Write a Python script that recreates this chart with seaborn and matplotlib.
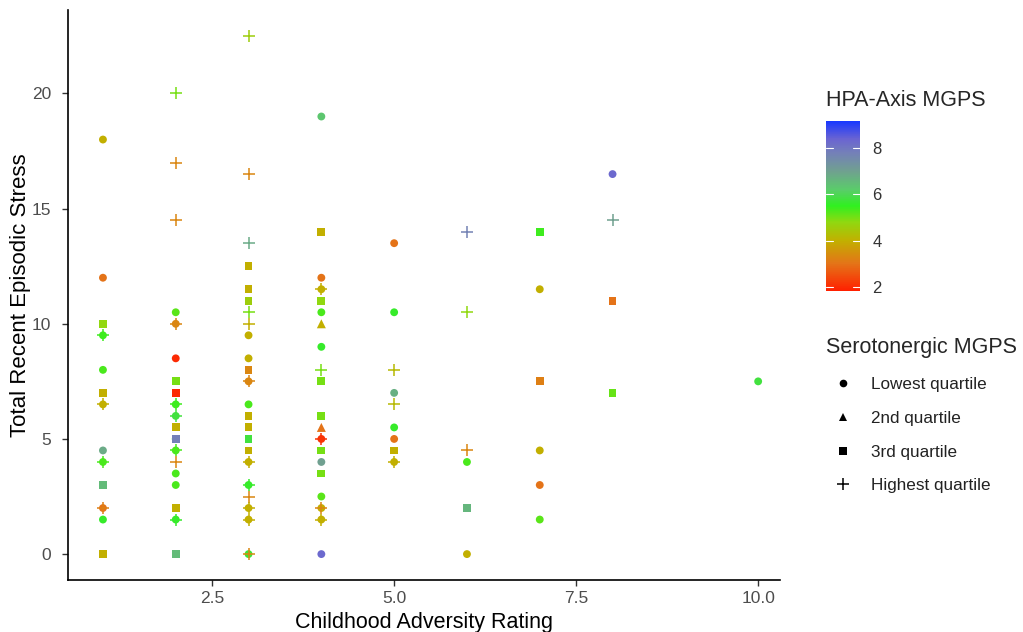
import matplotlib
matplotlib.use("Agg")
import matplotlib.pyplot as plt
import seaborn as sns
import pandas as pd
import numpy as np
from matplotlib.colors import LinearSegmentedColormap, Normalize
from matplotlib.lines import Line2D
import matplotlib.cm as cm

sns.set_theme(style="white")
plt.rcParams['font.family'] = ['Liberation Sans', 'DejaVu Sans']

# ---- data (childhood adversity, episodic stress, HPA-axis MGPS) ----
circle_x = [1, 1, 1, 1, 1, 1, 1, 1, 1,
            2, 2, 2, 2, 2, 2, 2, 2, 2, 2,
            3, 3, 3, 3, 3, 3, 3, 3, 3,
            4, 4, 4, 4, 4, 4, 4, 4, 4, 4, 4,
            5, 5, 5, 5, 5, 5,
            6, 6,
            7, 7, 7, 7,
            8, 10]
circle_y = [18, 12, 9.5, 8, 6.5, 4.5, 4, 2, 1.5,
            10.5, 10, 8.5, 6.5, 6, 5, 4.5, 3.5, 3, 1.5,
            9.5, 8.5, 7.5, 6.5, 4, 3, 2, 1.5, 0,
            12, 11.5, 10.5, 9, 5, 4, 2.5, 2, 1.5, 0, 19,
            13.5, 10.5, 7, 5.5, 5, 4,
            4, 0,
            11.5, 4.5, 3, 1.5,
            16.5, 7.5]
circle_h = [4.0, 3.0, 5.4, 5.3, 4.0, 6.8, 5.3, 3.0, 5.6,
            5.2, 3.3, 2.0, 5.4, 5.8, 5.5, 5.3, 5.3, 5.3, 5.6,
            4.0, 4.0, 3.3, 5.3, 4.0, 5.6, 4.0, 4.0, 5.7,
            3.0, 4.0, 5.3, 5.6, 2.1, 7.0, 5.2, 4.0, 4.0, 8.3, 6.3,
            3.0, 5.6, 6.7, 5.6, 3.0, 4.0,
            5.3, 4.0,
            4.0, 4.0, 3.0, 5.2,
            8.3, 5.8]

tri_x = [4, 4]
tri_y = [10, 5.5]
tri_h = [4.0, 3.0]

sq_x = [1, 1, 1, 1,
        2, 2, 2, 2, 2, 2,
        3, 3, 3, 3, 3, 3, 3, 3,
        4, 4, 4, 4, 4, 4,
        5, 6, 7, 7, 8, 8]
sq_y = [10, 7, 3, 0,
        7.5, 7, 5.5, 5, 2, 0,
        12.5, 11.5, 11, 8, 6, 5.5, 5, 4.5,
        14, 11, 7.5, 6, 4.5, 3.5,
        4.5, 2, 14, 7.5, 11, 7]
sq_h = [4.8, 4.0, 6.5, 4.0,
        5.0, 2.0, 4.0, 7.8, 4.0, 6.5,
        4.0, 4.0, 4.6, 3.3, 4.0, 4.0, 5.8, 4.0,
        4.0, 4.8, 5.0, 5.0, 5.0, 5.0,
        4.0, 6.6, 5.4, 3.2, 3.0, 5.1]

plus_x = [1, 1, 1, 1,
          2, 2, 2, 2, 2, 2, 2, 2, 2,
          3, 3, 3, 3, 3, 3, 3, 3, 3, 3, 3, 3,
          4, 4, 4, 4, 4,
          5, 5, 5,
          6, 6, 6,
          8]
plus_y = [9.5, 6.5, 4, 2,
          20, 17, 14.5, 10, 6.5, 6, 4.5, 4, 1.5,
          22.5, 16.5, 13.5, 10.5, 10, 7.5, 4, 3, 2.5, 2, 1.5, 0,
          11.5, 8, 5, 2, 1.5,
          8, 6.5, 4,
          14, 10.5, 4.5,
          14.5]
plus_h = [5.4, 4.0, 5.3, 3.2,
          5.0, 3.3, 3.3, 3.3, 5.4, 5.8, 5.3, 3.3, 5.6,
          4.6, 3.3, 6.8, 5.0, 4.0, 3.3, 4.0, 5.6, 3.3, 4.0, 4.0, 3.3,
          4.0, 5.0, 2.1, 3.3, 4.0,
          4.2, 4.2, 4.0,
          7.7, 4.8, 3.3,
          7.0]

quartile_labels = ["Lowest quartile", "2nd quartile", "3rd quartile", "Highest quartile"]
x_ticks = [2.5, 5.0, 7.5, 10.0]
y_ticks = [0, 5, 10, 15, 20]
cbar_ticks = [2, 4, 6, 8]

# ---- colour scale ----
hmin, hmax = 1.83, 9.16
stops = [(1.83, '#ff2000'), (3.0, '#e47418'), (4.0, '#c2b000'), (4.8, '#90d810'),
         (5.5, '#30f020'), (6.2, '#5acc6a'), (7.0, '#70a090'), (7.8, '#7480b8'),
         (8.4, '#6a64d2'), (9.16, '#1838ff')]
cmap = LinearSegmentedColormap.from_list(
    'hpa', [((v - hmin) / (hmax - hmin), c) for v, c in stops])
norm = Normalize(hmin, hmax)

fig = plt.figure(figsize=(10.23, 6.32), dpi=100)
ax = fig.add_axes([68 / 1023, 1 - 580 / 632, (780 - 68) / 1023, (580 - 10) / 632])

df_c = pd.DataFrame({'x': circle_x, 'y': circle_y, 'h': circle_h})
df_t = pd.DataFrame({'x': tri_x, 'y': tri_y, 'h': tri_h})
df_s = pd.DataFrame({'x': sq_x, 'y': sq_y, 'h': sq_h})
df_p = pd.DataFrame({'x': plus_x, 'y': plus_y, 'h': plus_h})

common = dict(x='x', y='y', hue='h', palette=cmap, hue_norm=norm, legend=False, ax=ax)
sns.scatterplot(data=df_c, marker='o', s=32, linewidth=0, **common)
sns.scatterplot(data=df_t, marker='^', s=42, linewidth=0, **common)
sns.scatterplot(data=df_s, marker='s', s=32, linewidth=0, **common)
sns.scatterplot(data=df_p, marker='+', s=75, linewidth=1.1, **common)

ax.set_xlim(0.52, 10.3)
ax.set_ylim(-1.125, 23.625)
ax.set_xticks(x_ticks)
ax.set_xticklabels([f"{v:.1f}" for v in x_ticks])
ax.set_yticks(y_ticks)
ax.set_xlabel("Childhood Adversity Rating", fontsize=15.5, color='black', labelpad=4)
ax.set_ylabel("Total Recent Episodic Stress", fontsize=16, color='black')
ax.yaxis.set_label_coords((31 - 68) / 712, 0.5)
for side in ['top', 'right']:
    ax.spines[side].set_visible(False)
for side in ['left', 'bottom']:
    ax.spines[side].set_color('black')
    ax.spines[side].set_linewidth(1.2)
ax.tick_params(axis='both', which='both', direction='out', length=4, width=1,
               color='#333333', labelsize=12.5, labelcolor='#4d4d4d',
               left=True, bottom=True, pad=4)
ax.tick_params(axis='y', pad=8)
ax.set_facecolor('white')

# ---- colourbar ----
cax = fig.add_axes([826 / 1023, 1 - 291 / 632, 34 / 1023, 170 / 632])
sm = cm.ScalarMappable(norm=norm, cmap=cmap)
cb = fig.colorbar(sm, cax=cax, ticks=cbar_ticks)
cb.outline.set_visible(False)
cax.tick_params(length=0, labelsize=12, labelcolor='#333333', pad=9)
for t in cbar_ticks:
    cax.plot([0, 0.2], [t, t], color='white', lw=0.8, transform=cax.get_yaxis_transform())
    cax.plot([0.8, 1.0], [t, t], color='white', lw=0.8, transform=cax.get_yaxis_transform())
fig.text(826 / 1023, 1 - 101 / 632, "HPA-Axis MGPS", fontsize=15.5, va='center', ha='left')

# ---- shape legend ----
markers = ['o', '^', 's', '+']
handles = [Line2D([], [], linestyle='none', marker=m, color='black',
                  markersize=5.5 if m != '+' else 9, markeredgewidth=1.1 if m == '+' else 0)
           for m in markers]
fig.text(826 / 1023, 1 - 347 / 632, "Serotonergic MGPS", fontsize=15.5, va='center', ha='left')
leg = fig.legend(handles, quartile_labels, loc='upper left',
                 bbox_to_anchor=(830 / 1023, 1 - 377 / 632), frameon=False,
                 fontsize=12.3, labelspacing=1.1, handletextpad=0.9, handlelength=1.5,
                 borderaxespad=0, borderpad=0)
for t in leg.get_texts():
    t.set_color('#222222')

fig.savefig("out.png", dpi=100, facecolor='white')
